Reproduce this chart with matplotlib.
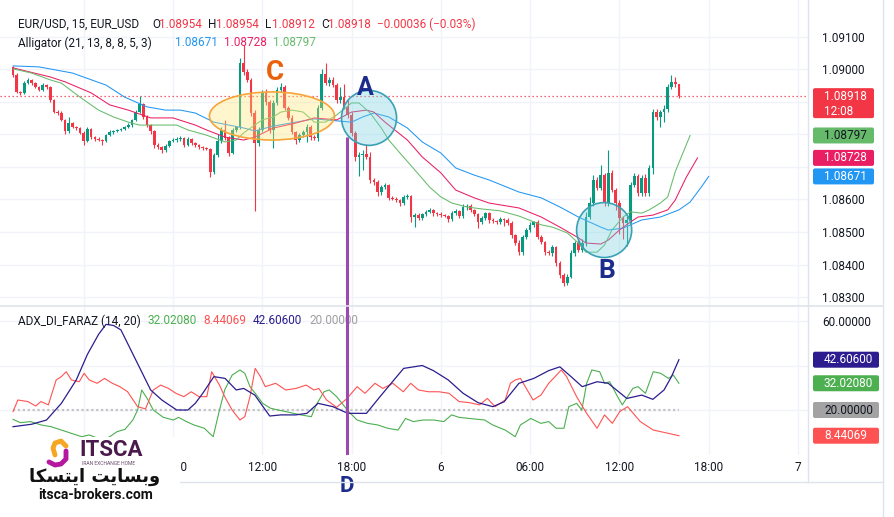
import matplotlib.pyplot as plt
import numpy as np
from matplotlib.patches import Ellipse, FancyBboxPatch, Rectangle

# TradingView light palette
BG = "#ffffff"
GRID = "#f0f3fa"
BORDER = "#e0e3eb"
TEXT = "#131722"
UP = "#089981"
DOWN = "#f23645"
JAW = "#2196f3"
TEETH = "#e91e63"
LIPS = "#66bb6a"
ADX_C = "#2b1d8f"
PDI_C = "#4caf50"
MDI_C = "#ff5252"
LEVEL_C = "#c4c4c4"
PURPLE = "#9c4aaf"
NAVY = "#1c2c8c"
ORANGE = "#e8620c"

W, H = 894, 517
PANE_R = 808

# ---- data -------------------------------------------------------------
first_open = 1.09008
closes = [
    1.08983, 1.08931, 1.08928, 1.08958, 1.08968, 1.08958, 1.08946, 1.08937, 1.08952, 1.08946,
    1.08906, 1.08869, 1.08866, 1.08845, 1.08811, 1.08835, 1.08823, 1.08820, 1.08805, 1.08780,
    1.08817, 1.08792, 1.08786, 1.08784, 1.08781, 1.08798, 1.08808, 1.08811, 1.08814, 1.08817,
    1.08823, 1.08829, 1.08845, 1.08869, 1.08894, 1.08854, 1.08829, 1.08811, 1.08768, 1.08762,
    1.08752, 1.08765, 1.08780, 1.08783, 1.08786, 1.08790, 1.08768, 1.08786, 1.08774, 1.08768,
    1.08762, 1.08758, 1.08755, 1.08685, 1.08737, 1.08780, 1.08814, 1.08789, 1.08743, 1.08814,
    1.08823, 1.09020, 1.08992, 1.08968, 1.08866, 1.08774, 1.08814, 1.08928, 1.08900, 1.08814,
    1.08897, 1.08937, 1.08946, 1.08882, 1.08851, 1.08808, 1.08783, 1.08798, 1.08808, 1.08823,
    1.08792, 1.08789, 1.08882, 1.08986, 1.08958, 1.08968, 1.08952, 1.08906, 1.08915, 1.08885,
    1.08860, 1.08805, 1.08731, 1.08737, 1.08740, 1.08731, 1.08660, 1.08654, 1.08623, 1.08638,
    1.08645, 1.08605, 1.08602, 1.08598, 1.08589, 1.08608, 1.08611, 1.08546, 1.08552, 1.08543,
    1.08555, 1.08562, 1.08568, 1.08558, 1.08555, 1.08552, 1.08549, 1.08540, 1.08558, 1.08565,
    1.08549, 1.08577, 1.08580, 1.08568, 1.08555, 1.08531, 1.08543, 1.08558, 1.08537, 1.08534,
    1.08531, 1.08540, 1.08537, 1.08528, 1.08491, 1.08466, 1.08438, 1.08485, 1.08506, 1.08522,
    1.08531, 1.08485, 1.08469, 1.08438, 1.08435, 1.08454, 1.08405, 1.08368, 1.08343, 1.08362,
    1.08435, 1.08466, 1.08445, 1.08466, 1.08546, 1.08589, 1.08660, 1.08635, 1.08675, 1.08589,
    1.08682, 1.08629, 1.08589, 1.08543, 1.08528, 1.08537, 1.08645, 1.08672, 1.08620, 1.08666,
    1.08620, 1.08697, 1.08869, 1.08854, 1.08869, 1.08878, 1.08946, 1.08962, 1.08955, 1.08918,
]
# wick lengths beyond the body, in points (1e-5)
wick_up = [
    3, 5, 4, 6, 5, 3, 4, 3, 5, 4,
    3, 4, 5, 6, 3, 20, 4, 3, 4, 5,
    6, 4, 3, 5, 3, 4, 5, 3, 4, 3,
    4, 5, 4, 6, 25, 4, 5, 3, 4, 6,
    3, 5, 4, 6, 5, 4, 3, 5, 4, 3,
    4, 3, 5, 4, 6, 20, 8, 30, 6, 5,
    4, 15, 55, 10, 6, 8, 10, 10, 12, 6,
    8, 10, 12, 6, 5, 8, 4, 6, 5, 8,
    6, 5, 10, 15, 35, 8, 10, 6, 30, 40,
    20, 8, 6, 10, 12, 30, 15, 6, 5, 8,
    6, 4, 5, 6, 4, 6, 5, 4, 6, 5,
    4, 6, 5, 3, 4, 5, 4, 3, 6, 5,
    4, 10, 6, 5, 4, 3, 6, 5, 4, 5,
    4, 6, 3, 5, 6, 4, 8, 6, 5, 10,
    4, 5, 6, 4, 8, 5, 4, 6, 5, 8,
    10, 6, 8, 12, 15, 20, 15, 10, 30, 8,
    70, 10, 6, 8, 6, 12, 10, 8, 6, 10,
    12, 10, 8, 10, 6, 12, 8, 20, 15, 0,
]
wick_dn = [
    5, 4, 6, 3, 4, 5, 3, 4, 3, 5,
    5, 4, 6, 4, 10, 5, 4, 6, 5, 12,
    4, 5, 6, 5, 12, 4, 3, 5, 4, 3,
    4, 3, 5, 4, 3, 6, 5, 8, 10, 6,
    8, 5, 4, 3, 6, 5, 8, 4, 6, 5,
    6, 5, 4, 15, 8, 5, 6, 5, 10, 4,
    5, 6, 8, 6, 10, 208, 10, 6, 8, 10,
    55, 6, 5, 8, 6, 5, 12, 6, 5, 30,
    8, 6, 10, 6, 5, 8, 6, 10, 10, 8,
    8, 10, 12, 60, 45, 6, 8, 10, 12, 8,
    6, 8, 5, 6, 8, 5, 6, 15, 30, 6,
    5, 6, 4, 8, 5, 6, 4, 8, 6, 5,
    6, 5, 8, 6, 5, 20, 6, 5, 8, 6,
    5, 6, 20, 8, 10, 6, 10, 8, 6, 5,
    8, 6, 5, 10, 6, 10, 10, 8, 8, 6,
    5, 8, 6, 5, 10, 6, 8, 6, 5, 10,
    8, 6, 20, 50, 50, 70, 8, 6, 10, 8,
    10, 8, 20, 10, 30, 30, 8, 6, 10, 6,
]

# Alligator (already shifted forward: jaw 8, teeth 5, lips 3)
jaw_bars = [0, 7, 16, 25, 30, 36, 41, 45, 49, 54, 62, 65, 70, 76, 81, 87, 91, 94, 97, 101,
            106, 110, 115, 119, 124, 128, 136, 142, 147, 152, 158, 160, 164, 169, 174, 179, 182, 185, 187]
jaw = [1.09011, 1.09008, 1.08989, 1.08952, 1.08915, 1.08885, 1.08875, 1.08875, 1.08866, 1.08838,
       1.08820, 1.08811, 1.08826, 1.08838, 1.08848, 1.08842, 1.08838, 1.08854, 1.08866, 1.08854,
       1.08820, 1.08777, 1.08743, 1.08697, 1.08675, 1.08660, 1.08623, 1.08605, 1.08577, 1.08546,
       1.08515, 1.08506, 1.08512, 1.08537, 1.08546, 1.08568, 1.08592, 1.08638, 1.08671]
teeth_bars = [0, 10, 14, 21, 26, 31, 37, 43, 49, 52, 57, 62, 65, 70, 76, 81, 87, 91, 95, 97,
              100, 106, 110, 115, 119, 124, 128, 136, 142, 147, 152, 154, 158, 160, 163, 166, 168, 172, 176, 178,
              181, 184]
teeth = [1.09005, 1.08977, 1.08962, 1.08928, 1.08891, 1.08875, 1.08851, 1.08851, 1.08829, 1.08814,
         1.08792, 1.08783, 1.08792, 1.08820, 1.08835, 1.08851, 1.08845, 1.08869, 1.08875, 1.08869,
         1.08838, 1.08783, 1.08731, 1.08682, 1.08629, 1.08605, 1.08589, 1.08574, 1.08546, 1.08515,
         1.08482, 1.08466, 1.08463, 1.08475, 1.08506, 1.08531, 1.08546, 1.08552, 1.08568, 1.08598,
         1.08669, 1.08728]
lips_bars = [0, 5, 10, 13, 18, 23, 27, 31, 34, 38, 44, 47, 52, 57, 60, 62, 65, 67, 70, 72,
             75, 78, 81, 84, 87, 91, 93, 96, 99, 101, 104, 108, 112, 115, 118, 122, 126, 131, 136, 142,
             145, 149, 152, 154, 157, 159, 161, 164, 166, 169, 171, 174, 176, 178, 182]
lips = [1.09002, 1.08989, 1.08968, 1.08958, 1.08915, 1.08875, 1.08854, 1.08838, 1.08829, 1.08829,
        1.08829, 1.08814, 1.08798, 1.08777, 1.08783, 1.08805, 1.08829, 1.08845, 1.08854, 1.08869,
        1.08875, 1.08869, 1.08838, 1.08838, 1.08860, 1.08897, 1.08897, 1.08866, 1.08820, 1.08783,
        1.08743, 1.08691, 1.08638, 1.08608, 1.08589, 1.08577, 1.08571, 1.08565, 1.08549, 1.08522,
        1.08515, 1.08497, 1.08466, 1.08438, 1.08438, 1.08460, 1.08506, 1.08546, 1.08562, 1.08558,
        1.08568, 1.08589, 1.08608, 1.08685, 1.08797]

# ADX_DI panel
adx_bars = [0, 5, 9, 13, 17, 20, 23, 25, 27, 29, 33, 37, 40, 44, 47, 49, 51, 54, 57, 60,
            62, 65, 69, 72, 76, 79, 82, 86, 90, 93, 95, 99, 105, 110, 113, 117, 121, 125, 129, 132,
            136, 140, 144, 147, 150, 153, 157, 160, 165, 169, 172, 175, 177, 179]
adx = [12.5, 13.6, 15.5, 23.0, 33.5, 45.0, 54.0, 58.5, 58.0, 56.0, 42.5, 29.0, 24.5, 20.0, 20.0,
       23.0, 27.5, 35.0, 34.2, 29.0, 29.7, 26.7, 17.3, 17.8, 17.8, 18.5, 23.0, 21.5, 18.5, 18.5,
       18.5, 26.7, 38.7, 40.0, 37.7, 33.5, 27.5, 23.3, 21.5, 23.7, 32.0, 34.2, 37.7, 39.4, 35.0,
       30.5, 32.7, 32.0, 25.2, 26.7, 24.8, 29.0, 35.0, 42.606]
pdi_bars = [0, 2.0, 4.7, 7.5, 10.2, 13.0, 15.7, 18.5, 20.5, 24.0, 26.0, 28.0, 30.1, 32.2, 33.5,
            34.6, 36.3, 37.7, 40.4, 43.1, 44.5, 46.6, 48.6, 51.4, 53.8, 55.5, 56.9, 58.9, 61.0, 62.3,
            63.7, 65.8, 67.1, 69.2, 71.3, 73.3, 75.4, 77.4, 80.2, 81.5, 83.6, 85.0, 87.0, 90.2, 92.5,
            95.3, 98.0, 100.7, 103.5, 105.5, 107.6, 110.3, 113.1, 115.8, 117.9, 119.9, 122.7, 126.8,
            128.9, 132.3, 135.0, 136.4, 139.2, 141.9, 144.0, 146.0, 148.1, 149.4, 151.5, 152.9, 154.2,
            155.6, 157.7, 159.0, 160.4, 162.5, 163.8, 166.6, 168.0, 170.0, 172.1, 174.1, 176.2, 177.5, 179.0]
pdi = [15.8, 14.3, 14.8, 13.3, 12.5, 11.0, 9.5, 8.0, 8.8, 6.5, 8.0, 10.3, 11.3, 15.5, 20.0,
       29.0, 24.5, 20.0, 16.7, 15.5, 16.7, 14.8, 13.3, 11.8, 8.0, 20.0, 29.0, 35.7, 38.0, 36.5,
       30.5, 26.0, 23.0, 20.8, 20.0, 19.3, 18.5, 17.8, 17.0, 22.3, 28.2, 29.0, 26.0, 19.3, 15.5,
       14.0, 13.3, 11.8, 11.0, 16.2, 14.8, 15.5, 15.5, 14.8, 17.8, 16.7, 16.2, 15.5,
       13.3, 11.0, 8.0, 13.3, 16.2, 14.0, 14.8, 11.8, 11.8, 21.5, 23.0, 20.0, 32.0,
       38.0, 37.2, 32.0, 32.7, 26.0, 22.3, 29.7, 30.5, 27.5, 37.2, 36.5, 34.2, 35.7, 32.0208]
mdi_bars = [0, 1.3, 4.0, 6.1, 7.5, 9.5, 11.6, 13.0, 14.3, 15.7, 17.8, 19.1, 20.5, 22.6, 24.6,
            26.7, 28.7, 30.8, 33.5, 35.6, 37.7, 39.7, 41.8, 43.8, 45.9, 47.9, 50.0, 52.1, 53.4, 55.5,
            56.9, 58.9, 61.0, 62.3, 63.7, 65.1, 66.5, 67.8, 70.6, 73.3, 76.1, 78.8, 80.9, 82.2, 84.3,
            87.0, 89.8, 92.5, 94.6, 97.3, 99.4, 102.1, 104.9, 106.9, 109.0, 111.7, 114.5, 117.2, 119.9,
            122.7, 125.4, 127.5, 129.6, 132.3, 133.7, 135.0, 136.4, 139.8, 141.9, 144.0, 147.4, 148.8,
            151.5, 154.2, 157.0, 159.0, 161.1, 163.1, 165.2, 168.6, 172.1, 176.2, 179.0]
mdi = [19.3, 24.5, 23.8, 21.8, 23.8, 22.3, 33.5, 35.0, 37.2, 33.5, 32.7, 36.5, 33.5, 32.0, 34.2,
       32.0, 30.5, 28.2, 21.5, 20.5, 29.0, 31.2, 29.7, 27.5, 26.0, 28.2, 26.0, 26.0, 37.2, 31.2,
       26.0, 20.0, 15.5, 17.0, 26.0, 38.7, 35.0, 30.5, 32.0, 29.0, 29.7, 31.2, 29.0, 29.7, 24.5,
       21.2, 25.2, 30.5, 27.5, 32.0, 29.7, 32.0, 28.2, 32.0, 29.0, 28.2, 28.2, 27.5, 23.8,
       23.3, 22.3, 25.2, 21.5, 24.5, 32.0, 33.5, 34.2, 24.5, 26.7, 32.0, 38.0, 35.0,
       26.0, 18.5, 11.8, 17.8, 14.0, 19.3, 21.5, 14.8, 11.0, 9.5, 8.44069]
adx_level = 20.0

price_ticks = [1.083, 1.084, 1.085, 1.086, 1.087, 1.088, 1.089, 1.090, 1.091]
adx_ticks = [20, 40, 60]
time_ticks = [19, 43, 67, 91, 115, 139, 163, 187, 211]
# the "5" under the watermark is covered on the original chart
time_labels = ["", "06:00", "12:00", "18:00", "6", "06:00", "12:00", "18:00", "7"]
# tick labels that the value tags cover on the original chart
price_hidden = [1.087, 1.088, 1.089]
adx_hidden = [20, 40]

# matplotlib does no Arabic shaping, so the Persian line is written in
# presentation forms, already in visual (left-to-right) order: "وبسایت ایتسکا"
site_fa = "\ufe8e\ufedc\ufeb4\ufe98\ufef3\ufe8d \ufe96\ufef3\ufe8e\ufeb4\ufe91\ufeed"

# ---- figure -----------------------------------------------------------
plt.rcParams["font.family"] = ["Roboto", "DejaVu Sans"]
fig = plt.figure(figsize=(W / 100, H / 100), dpi=100)
fig.patch.set_facecolor(BG)


def box(x0, y0, x1, y1):
    return [x0 / W, 1 - y1 / H, (x1 - x0) / W, (y1 - y0) / H]


ax = fig.add_axes(box(0, 0, PANE_R, 305))
ax2 = fig.add_axes(box(0, 305, PANE_R, 455))


def pane(a):
    a.set_facecolor(BG)
    for s in a.spines.values():
        s.set_visible(False)
    a.yaxis.tick_right()
    a.tick_params(axis="both", length=0, labelsize=8.5, colors=TEXT)
    a.tick_params(axis="y", pad=10)
    a.tick_params(axis="x", pad=4)
    a.set_xticks(time_ticks)
    a.grid(True, color=GRID, lw=1)
    a.set_axisbelow(True)
    a.set_xlim(-3.5, 213.7)


pane(ax)
pane(ax2)
ax.set_ylim(1.082754, 1.092138)
ax.set_yticks(price_ticks)
ax.set_yticklabels(["" if v in price_hidden else f"{v:.5f}" for v in price_ticks])
ax.tick_params(axis="x", labelbottom=False)
ax2.set_ylim(-0.22, 67.19)
ax2.set_yticks(adx_ticks)
ax2.set_yticklabels(["" if v in adx_hidden else f"{v:.5f}" for v in adx_ticks])
ax2.set_xticklabels(time_labels)

# candles
c = np.array(closes)
o = np.r_[first_open, c[:-1]]
idx = np.arange(len(c))
hi = np.maximum(o, c) + np.array(wick_up) * 1e-5
lo = np.minimum(o, c) - np.array(wick_dn) * 1e-5
col = np.where(c >= o, UP, DOWN)
ax.vlines(idx, lo, hi, colors=col, lw=0.8, zorder=2)
ax.bar(idx, np.maximum(np.abs(c - o), 0.00002), bottom=np.minimum(o, c),
       width=0.72, color=col, lw=0, zorder=2)

ax.plot(jaw_bars, jaw, color=JAW, lw=0.75, zorder=3)
ax.plot(teeth_bars, teeth, color=TEETH, lw=0.75, zorder=3)
ax.plot(lips_bars, lips, color=LIPS, lw=0.75, zorder=3)
ax.axhline(c[-1], color=DOWN, lw=0.9, ls=(0, (1, 2.2)), zorder=1)

# annotations A, B, C, D
ax.add_patch(Ellipse((69.6, 1.08857), 33.6, 0.00148, facecolor=(1.0, 0.90, 0.45, 0.35),
                     edgecolor="#f6a53a", lw=1.2, zorder=4))
ax.add_patch(Ellipse((95.7, 1.08851), 14.8, 0.00169, facecolor=(0.45, 0.82, 0.88, 0.35),
                     edgecolor="#3aa0b5", lw=1.2, zorder=4))
ax.add_patch(Ellipse((158.9, 1.08506), 14.8, 0.00169, facecolor=(0.45, 0.82, 0.88, 0.35),
                     edgecolor="#3aa0b5", lw=1.2, zorder=4))
ax.text(70.4, 1.08992, "C", color=ORANGE, fontsize=20, fontweight="bold",
        ha="center", va="center", zorder=6)
ax.text(94.6, 1.08943, "A", color=NAVY, fontsize=18, fontweight="bold",
        ha="center", va="center", zorder=6)
ax.text(159.7, 1.08380, "B", color=NAVY, fontsize=19, fontweight="bold",
        ha="center", va="center", zorder=6)
ax.vlines(89.8, ax.get_ylim()[0], 1.08792, color=PURPLE, lw=2.2, zorder=6)
ax2.axvline(89.8, color=PURPLE, lw=2.2, zorder=6)
ax2.text(89.8, -14.3, "D", color=NAVY, fontsize=16, fontweight="bold",
         ha="center", va="center", clip_on=False)

# ADX panel lines
ax2.plot([0, len(c) - 1], [adx_level, adx_level], color=LEVEL_C, lw=1.6, ls=(0, (1, 1.2)), zorder=2)
ax2.plot(pdi_bars, pdi, color=PDI_C, lw=0.8, zorder=3)
ax2.plot(mdi_bars, mdi, color=MDI_C, lw=0.8, zorder=3)
ax2.plot(adx_bars, adx, color=ADX_C, lw=0.9, zorder=3)


# legends (figure pixel positions, owned by their pane)
def ftext(a, x, y, s, color=TEXT):
    a.text(x / W, 1 - y / H, s, transform=fig.transFigure, color=color,
           fontsize=8.5, ha="left", va="center", zorder=5)


for x, s, clr in [(18, "EUR/USD, 15, EUR_USD", TEXT), (152, "O", TEXT), (159, "1.08954", DOWN),
                  (208, "H", TEXT), (216, "1.08954", DOWN), (265, "L", TEXT), (272, "1.08912", DOWN),
                  (321, "C", TEXT), (328, "1.08918", DOWN), (377, "\u22120.00036 (\u22120.03%)", DOWN)]:
    ftext(ax, x, 24, s, clr)
for x, s, clr in [(18, "Alligator (21, 13, 8, 8, 5, 3)", TEXT), (175, f"{jaw[-1]:.5f}", JAW),
                  (224, f"{teeth[-1]:.5f}", TEETH), (273, f"{lips[-1]:.5f}", LIPS)]:
    ftext(ax, x, 43, s, clr)
for x, s, clr in [(18, "ADX_DI_FARAZ (14, 20)", TEXT), (148, f"{pdi[-1]:.5f}", PDI_C),
                  (203, f"{mdi[-1]:.5f}", MDI_C), (253, f"{adx[-1]:.5f}", ADX_C),
                  (309, f"{adx_level:.5f}", "#9e9e9e")]:
    ftext(ax2, x, 321, s, clr)

# overlay in pixel coordinates: axis tags, separators, logo
ov = fig.add_axes([0, 0, 1, 1])
ov.set_xlim(0, W)
ov.set_ylim(H, 0)
ov.axis("off")


def tag(a, v, s, bg, fg, x1=874, sub=None):
    y = H - a.transData.transform((0, v))[1]
    top, hh = (y - 8, 30) if sub else (y - 8, 16)
    ov.add_patch(FancyBboxPatch((813, top), x1 - 813, hh, boxstyle="round,pad=0,rounding_size=2",
                                fc=bg, ec="none", zorder=3))
    ov.text(824, y, s, color=fg, fontsize=8.5, ha="left", va="center", zorder=4)
    if sub:
        ov.text(824, y + 15, sub, color=fg, fontsize=8.5, ha="left", va="center", zorder=4)


ov.plot([PANE_R, PANE_R], [0, 482], color=BORDER, lw=1)
ov.plot([0, 883], [305.5, 305.5], color=BORDER, lw=1.2)
ov.plot([0, 883], [482, 482], color=BORDER, lw=1)
ov.plot([883, 883], [0, 517], color=BORDER, lw=1)

tag(ax, c[-1], f"{c[-1]:.5f}", DOWN, "white", sub="12:08")
tag(ax, lips[-1], f"{lips[-1]:.5f}", LIPS, TEXT)
tag(ax, teeth[-1], f"{teeth[-1]:.5f}", TEETH, "white")
tag(ax, jaw[-1], f"{jaw[-1]:.5f}", JAW, "white")
tag(ax2, adx[-1], f"{adx[-1]:.5f}", ADX_C, "white", x1=879)
tag(ax2, pdi[-1], f"{pdi[-1]:.5f}", PDI_C, "white", x1=879)
tag(ax2, adx_level, f"{adx_level:.5f}", "#a3a3a3", TEXT, x1=879)
tag(ax2, mdi[-1], f"{mdi[-1]:.5f}", MDI_C, "white", x1=879)

# ITSCA watermark
ov.add_patch(Rectangle((0, 437), 180, 80, fc="white", ec="none", zorder=5))
ov.plot([66, 61, 55, 53, 55], [446, 441, 443, 448, 455], color="#f5a623", lw=3.5,
        solid_capstyle="round", solid_joinstyle="round", zorder=6)
ov.plot([49, 55, 61, 66, 66], [462, 465, 464, 459, 451], color="#b5179e", lw=3.5,
        solid_capstyle="round", solid_joinstyle="round", zorder=6)
ov.text(79, 450, "ITSCA", color="#4b1a4c", fontsize=16, fontweight="bold",
        ha="left", va="center", zorder=6)
ov.text(82, 463.5, "IRAN EXCHANGE HOME", color="#6b4a6b", fontsize=3.6,
        ha="left", va="center", zorder=6)
ov.text(95, 477, site_fa, family=["DejaVu Sans"], color="#111111", fontsize=13,
        fontweight="bold", ha="center", va="center", zorder=6)
ov.text(96, 495, "itsca-brokers.com", color="#111111", fontsize=10, fontweight="bold",
        ha="center", va="center", zorder=6)

fig.savefig("out.png", dpi=100, facecolor=BG)
